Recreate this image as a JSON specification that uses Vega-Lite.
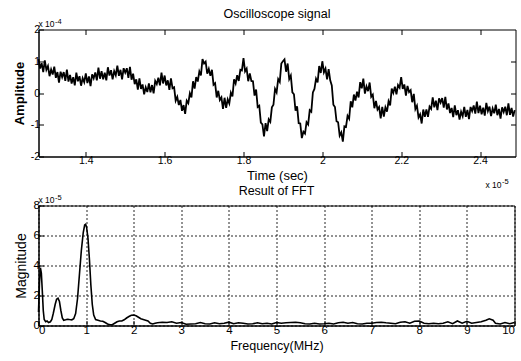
{
  "$schema": "https://vega.github.io/schema/vega-lite/v6.json",
  "background": "white",
  "padding": {"left": 12.5, "top": 7.5, "right": 0, "bottom": 0},
  "spacing": 49,
  "bounds": "flush",
  "config": {
    "font": "Liberation Sans",
    "view": {"stroke": "#000", "strokeWidth": 1},
    "axis": {
      "domainColor": "#000", "tickColor": "#000", "labelColor": "#000", "titleColor": "#000",
      "tickSize": -5, "labelPadding": 4, "labelFont": "Liberation Sans", "labelFontSize": 10.5,
      "titleFont": "Liberation Sans", "titleFontWeight": "normal", "grid": false, "labelOverlap": false
    },
    "title": {"font": "Liberation Sans", "fontSize": 12.5, "fontWeight": "normal", "color": "#000", "offset": -4}
  },
  "vconcat": [
    {
      "width": 477,
      "height": 127,
      "title": {"text": "Oscilloscope signal", "offset": -3},
      "resolve": {"axis": {"x": "independent", "y": "independent"}},
      "layer": [
        {
          "data": {"values": [
{"t":1.280,"a":1.07},{"t":1.284,"a":0.77},{"t":1.288,"a":0.94},{"t":1.292,"a":0.66},{"t":1.296,"a":1.03},
{"t":1.300,"a":0.73},{"t":1.304,"a":0.85},{"t":1.308,"a":0.53},{"t":1.312,"a":0.74},{"t":1.316,"a":0.58},
{"t":1.320,"a":0.83},{"t":1.324,"a":0.48},{"t":1.328,"a":0.66},{"t":1.332,"a":0.33},{"t":1.336,"a":0.67},
{"t":1.340,"a":0.50},{"t":1.344,"a":0.66},{"t":1.348,"a":0.38},{"t":1.352,"a":0.74},{"t":1.356,"a":0.36},
{"t":1.360,"a":0.57},{"t":1.364,"a":0.30},{"t":1.368,"a":0.50},{"t":1.372,"a":0.24},{"t":1.376,"a":0.64},
{"t":1.380,"a":0.37},{"t":1.384,"a":0.53},{"t":1.388,"a":0.23},{"t":1.392,"a":0.47},{"t":1.396,"a":0.34},
{"t":1.400,"a":0.62},{"t":1.404,"a":0.31},{"t":1.408,"a":0.52},{"t":1.412,"a":0.22},{"t":1.416,"a":0.59},
{"t":1.420,"a":0.46},{"t":1.424,"a":0.65},{"t":1.428,"a":0.40},{"t":1.432,"a":0.80},{"t":1.436,"a":0.45},
{"t":1.440,"a":0.69},{"t":1.444,"a":0.43},{"t":1.448,"a":0.64},{"t":1.452,"a":0.40},{"t":1.456,"a":0.81},
{"t":1.460,"a":0.55},{"t":1.464,"a":0.72},{"t":1.468,"a":0.43},{"t":1.472,"a":0.69},{"t":1.476,"a":0.56},
{"t":1.480,"a":0.86},{"t":1.484,"a":0.54},{"t":1.488,"a":0.73},{"t":1.492,"a":0.43},{"t":1.496,"a":0.78},
{"t":1.500,"a":0.64},{"t":1.504,"a":0.78},{"t":1.508,"a":0.48},{"t":1.512,"a":0.82},{"t":1.516,"a":0.42},
{"t":1.520,"a":0.61},{"t":1.524,"a":0.28},{"t":1.528,"a":0.43},{"t":1.532,"a":0.11},{"t":1.536,"a":0.46},
{"t":1.540,"a":0.13},{"t":1.544,"a":0.27},{"t":1.548,"a":-0.04},{"t":1.552,"a":0.18},{"t":1.556,"a":0.03},
{"t":1.560,"a":0.30},{"t":1.564,"a":0.02},{"t":1.568,"a":0.25},{"t":1.572,"a":-0.01},{"t":1.576,"a":0.38},
{"t":1.580,"a":0.28},{"t":1.584,"a":0.48},{"t":1.588,"a":0.24},{"t":1.592,"a":0.64},{"t":1.596,"a":0.30},
{"t":1.600,"a":0.55},{"t":1.604,"a":0.24},{"t":1.608,"a":0.40},{"t":1.612,"a":0.10},{"t":1.616,"a":0.46},
{"t":1.620,"a":0.15},{"t":1.624,"a":0.18},{"t":1.628,"a":-0.24},{"t":1.632,"a":-0.12},{"t":1.636,"a":-0.38},
{"t":1.640,"a":-0.22},{"t":1.644,"a":-0.56},{"t":1.648,"a":-0.38},{"t":1.652,"a":-0.66},{"t":1.656,"a":-0.24},
{"t":1.660,"a":-0.32},{"t":1.664,"a":-0.01},{"t":1.668,"a":-0.14},{"t":1.672,"a":0.37},{"t":1.676,"a":0.14},
{"t":1.680,"a":0.50},{"t":1.684,"a":0.36},{"t":1.688,"a":0.68},{"t":1.692,"a":0.55},{"t":1.696,"a":1.07},
{"t":1.700,"a":0.93},{"t":1.704,"a":0.99},{"t":1.708,"a":0.61},{"t":1.712,"a":0.76},{"t":1.716,"a":0.54},
{"t":1.720,"a":0.73},{"t":1.724,"a":0.26},{"t":1.728,"a":0.31},{"t":1.732,"a":-0.14},{"t":1.736,"a":0.07},
{"t":1.740,"a":-0.22},{"t":1.744,"a":-0.14},{"t":1.748,"a":-0.50},{"t":1.752,"a":-0.15},{"t":1.756,"a":-0.47},
{"t":1.760,"a":-0.20},{"t":1.764,"a":-0.33},{"t":1.768,"a":0.01},{"t":1.772,"a":-0.11},{"t":1.776,"a":0.43},
{"t":1.780,"a":0.30},{"t":1.784,"a":0.56},{"t":1.788,"a":0.38},{"t":1.792,"a":0.73},{"t":1.796,"a":0.71},
{"t":1.800,"a":1.10},{"t":1.804,"a":0.68},{"t":1.808,"a":0.77},{"t":1.812,"a":0.37},{"t":1.816,"a":0.62},
{"t":1.820,"a":0.38},{"t":1.824,"a":0.37},{"t":1.828,"a":-0.08},{"t":1.832,"a":0.11},{"t":1.836,"a":-0.44},
{"t":1.840,"a":-0.40},{"t":1.844,"a":-0.93},{"t":1.848,"a":-0.99},{"t":1.852,"a":-1.37},{"t":1.856,"a":-0.95},
{"t":1.860,"a":-1.20},{"t":1.864,"a":-0.83},{"t":1.868,"a":-0.91},{"t":1.872,"a":-0.45},{"t":1.876,"a":-0.37},
{"t":1.880,"a":0.13},{"t":1.884,"a":0.02},{"t":1.888,"a":0.44},{"t":1.892,"a":0.35},{"t":1.896,"a":0.93},
{"t":1.900,"a":1.00},{"t":1.904,"a":1.06},{"t":1.908,"a":0.67},{"t":1.912,"a":0.93},{"t":1.916,"a":0.44},
{"t":1.920,"a":0.55},{"t":1.924,"a":0.02},{"t":1.928,"a":-0.04},{"t":1.932,"a":-0.56},{"t":1.936,"a":-0.42},
{"t":1.940,"a":-0.95},{"t":1.944,"a":-0.96},{"t":1.948,"a":-1.42},{"t":1.952,"a":-1.22},{"t":1.956,"a":-1.28},
{"t":1.960,"a":-0.92},{"t":1.964,"a":-0.99},{"t":1.968,"a":-0.54},{"t":1.972,"a":-0.59},{"t":1.976,"a":0.02},
{"t":1.980,"a":0.13},{"t":1.984,"a":0.45},{"t":1.988,"a":0.33},{"t":1.992,"a":0.85},{"t":1.996,"a":0.63},
{"t":2.000,"a":1.00},{"t":2.004,"a":0.65},{"t":2.008,"a":0.77},{"t":2.012,"a":0.43},{"t":2.016,"a":0.75},
{"t":2.020,"a":0.40},{"t":2.024,"a":0.24},{"t":2.028,"a":-0.37},{"t":2.032,"a":-0.44},{"t":2.036,"a":-0.89},
{"t":2.040,"a":-0.92},{"t":2.044,"a":-1.34},{"t":2.048,"a":-1.24},{"t":2.052,"a":-1.53},{"t":2.056,"a":-1.05},
{"t":2.060,"a":-1.07},{"t":2.064,"a":-0.72},{"t":2.068,"a":-0.81},{"t":2.072,"a":-0.26},{"t":2.076,"a":-0.45},
{"t":2.080,"a":-0.05},{"t":2.084,"a":-0.24},{"t":2.088,"a":0.04},{"t":2.092,"a":-0.14},{"t":2.096,"a":0.34},
{"t":2.100,"a":0.15},{"t":2.104,"a":0.45},{"t":2.108,"a":-0.02},{"t":2.112,"a":0.21},{"t":2.116,"a":0.06},
{"t":2.120,"a":0.33},{"t":2.124,"a":-0.12},{"t":2.128,"a":-0.05},{"t":2.132,"a":-0.48},{"t":2.136,"a":-0.25},
{"t":2.140,"a":-0.52},{"t":2.144,"a":-0.44},{"t":2.148,"a":-0.80},{"t":2.152,"a":-0.44},{"t":2.156,"a":-0.74},
{"t":2.160,"a":-0.45},{"t":2.164,"a":-0.59},{"t":2.168,"a":-0.26},{"t":2.172,"a":-0.39},{"t":2.176,"a":0.14},
{"t":2.180,"a":0.00},{"t":2.184,"a":0.20},{"t":2.188,"a":-0.04},{"t":2.192,"a":0.25},{"t":2.196,"a":0.17},
{"t":2.200,"a":0.50},{"t":2.204,"a":0.13},{"t":2.208,"a":0.27},{"t":2.212,"a":-0.08},{"t":2.216,"a":0.22},
{"t":2.220,"a":0.03},{"t":2.224,"a":0.09},{"t":2.228,"a":-0.29},{"t":2.232,"a":-0.03},{"t":2.236,"a":-0.51},
{"t":2.240,"a":-0.40},{"t":2.244,"a":-0.77},{"t":2.248,"a":-0.67},{"t":2.252,"a":-0.96},{"t":2.256,"a":-0.52},
{"t":2.260,"a":-0.75},{"t":2.264,"a":-0.52},{"t":2.268,"a":-0.75},{"t":2.272,"a":-0.43},{"t":2.276,"a":-0.50},
{"t":2.280,"a":-0.14},{"t":2.284,"a":-0.45},{"t":2.288,"a":-0.24},{"t":2.292,"a":-0.54},{"t":2.296,"a":-0.17},
{"t":2.300,"a":-0.30},{"t":2.304,"a":-0.16},{"t":2.308,"a":-0.46},{"t":2.312,"a":-0.12},{"t":2.316,"a":-0.52},
{"t":2.320,"a":-0.33},{"t":2.324,"a":-0.63},{"t":2.328,"a":-0.47},{"t":2.332,"a":-0.76},{"t":2.336,"a":-0.39},
{"t":2.340,"a":-0.70},{"t":2.344,"a":-0.54},{"t":2.348,"a":-0.84},{"t":2.352,"a":-0.59},{"t":2.356,"a":-0.73},
{"t":2.360,"a":-0.44},{"t":2.364,"a":-0.75},{"t":2.368,"a":-0.53},{"t":2.372,"a":-0.82},{"t":2.376,"a":-0.44},
{"t":2.380,"a":-0.57},{"t":2.384,"a":-0.39},{"t":2.388,"a":-0.65},{"t":2.392,"a":-0.27},{"t":2.396,"a":-0.63},
{"t":2.400,"a":-0.40},{"t":2.404,"a":-0.67},{"t":2.408,"a":-0.46},{"t":2.412,"a":-0.71},{"t":2.416,"a":-0.31},
{"t":2.420,"a":-0.57},{"t":2.424,"a":-0.43},{"t":2.428,"a":-0.73},{"t":2.432,"a":-0.49},{"t":2.436,"a":-0.64},
{"t":2.440,"a":-0.37},{"t":2.444,"a":-0.70},{"t":2.448,"a":-0.50},{"t":2.452,"a":-0.81},{"t":2.456,"a":-0.45},
{"t":2.460,"a":-0.60},{"t":2.464,"a":-0.43},{"t":2.468,"a":-0.70},{"t":2.472,"a":-0.33},{"t":2.476,"a":-0.69},
{"t":2.480,"a":-0.47},{"t":2.484,"a":-0.74},{"t":2.488,"a":-0.54}
          ]},
          "mark": {"type": "line", "color": "#000", "strokeWidth": 1.8},
          "encoding": {
            "x": {"field": "t", "type": "quantitative", "scale": {"domain": [1.28, 2.49], "nice": false, "zero": false},
                  "axis": {"values": [1.4, 1.6, 1.8, 2, 2.2, 2.4], "labelExpr": "'' + datum.value", "title": "Time (sec)", "titleFontSize": 13, "titlePadding": 3}},
            "y": {"field": "a", "type": "quantitative", "scale": {"domain": [-2, 2], "nice": false},
                  "axis": {"values": [-2, -1, 0, 1, 2], "labelExpr": "'' + datum.value", "title": "Amplitude", "titleFontWeight": "bold", "titleFontSize": 13, "titlePadding": 4}}
          }
        },
        {
          "data": {"values": [{"lab": "x 10"}]},
          "mark": {"type": "text", "align": "left", "baseline": "alphabetic", "dy": -3, "fontSize": 8.5, "color": "#000"},
          "encoding": {
            "text": {"field": "lab"},
            "x": {"datum": 1.28, "type": "quantitative", "axis": {"orient": "top", "labels": false, "title": null, "domain": false, "labelPadding": 0, "values": [1.4, 1.6, 1.8, 2, 2.2, 2.4]}},
            "y": {"datum": 2, "type": "quantitative", "axis": {"orient": "right", "labels": false, "title": null, "domain": false, "labelPadding": 0, "values": [-1, 0, 1]}}
          }
        },
        {
          "data": {"values": [{"lab": "-4"}]},
          "mark": {"type": "text", "align": "left", "baseline": "alphabetic", "dx": 16.5, "dy": -6, "fontSize": 7.5, "color": "#000"},
          "encoding": {
            "text": {"field": "lab"},
            "x": {"datum": 1.28, "type": "quantitative", "axis": null},
            "y": {"datum": 2, "type": "quantitative", "axis": null}
          }
        },
        {
          "data": {"values": [{"lab": "x 10"}]},
          "mark": {"type": "text", "align": "right", "baseline": "alphabetic", "dx": -14, "dy": 31, "fontSize": 8.5, "color": "#000"},
          "encoding": {
            "text": {"field": "lab"},
            "x": {"datum": 2.49, "type": "quantitative", "axis": null},
            "y": {"datum": -2, "type": "quantitative", "axis": null}
          }
        },
        {
          "data": {"values": [{"lab": "-5"}]},
          "mark": {"type": "text", "align": "left", "baseline": "alphabetic", "dx": -13.5, "dy": 27, "fontSize": 7.5, "color": "#000"},
          "encoding": {
            "text": {"field": "lab"},
            "x": {"datum": 2.49, "type": "quantitative", "axis": null},
            "y": {"datum": -2, "type": "quantitative", "axis": null}
          }
        }
      ]
    },
    {
      "width": 476,
      "height": 120,
      "title": {"text": "Result of FFT"},
      "resolve": {"axis": {"x": "independent", "y": "independent"}},
      "layer": [
        {
          "data": {"values": [
{"f":0.00,"m":0.90},{"f":0.02,"m":2.80},{"f":0.04,"m":3.85},{"f":0.06,"m":3.50},{"f":0.08,"m":2.30},
{"f":0.10,"m":1.00},{"f":0.12,"m":0.40},{"f":0.15,"m":0.25},{"f":0.18,"m":0.30},{"f":0.21,"m":0.20},
{"f":0.25,"m":0.25},{"f":0.28,"m":0.40},{"f":0.31,"m":0.80},{"f":0.35,"m":1.40},{"f":0.38,"m":1.75},
{"f":0.41,"m":1.82},{"f":0.44,"m":1.60},{"f":0.47,"m":1.00},{"f":0.50,"m":0.50},{"f":0.53,"m":0.35},
{"f":0.57,"m":0.38},{"f":0.61,"m":0.42},{"f":0.65,"m":0.40},{"f":0.70,"m":0.38},{"f":0.74,"m":0.45},
{"f":0.78,"m":0.80},{"f":0.82,"m":1.80},{"f":0.86,"m":3.40},{"f":0.90,"m":5.00},{"f":0.94,"m":6.20},
{"f":0.97,"m":6.70},{"f":0.99,"m":6.75},{"f":1.01,"m":6.55},{"f":1.04,"m":5.80},{"f":1.07,"m":4.40},
{"f":1.10,"m":2.70},{"f":1.13,"m":1.40},{"f":1.16,"m":0.70},{"f":1.20,"m":0.40},{"f":1.25,"m":0.35},
{"f":1.30,"m":0.30},{"f":1.35,"m":0.28},{"f":1.40,"m":0.20},{"f":1.45,"m":0.10},{"f":1.50,"m":0.05},
{"f":1.55,"m":0.05},{"f":1.60,"m":0.15},{"f":1.65,"m":0.25},{"f":1.70,"m":0.30},{"f":1.75,"m":0.30},
{"f":1.80,"m":0.38},{"f":1.85,"m":0.50},{"f":1.90,"m":0.60},{"f":1.95,"m":0.68},{"f":2.00,"m":0.70},
{"f":2.05,"m":0.65},{"f":2.10,"m":0.55},{"f":2.15,"m":0.45},{"f":2.20,"m":0.40},{"f":2.25,"m":0.35},
{"f":2.30,"m":0.30},{"f":2.35,"m":0.15},{"f":2.40,"m":0.10},{"f":2.45,"m":0.15},{"f":2.5,"m":0.18},
{"f":2.6,"m":0.22},{"f":2.7,"m":0.20},{"f":2.8,"m":0.25},{"f":2.9,"m":0.15},{"f":3.0,"m":0.20},
{"f":3.1,"m":0.08},{"f":3.2,"m":0.10},{"f":3.3,"m":0.12},{"f":3.4,"m":0.20},{"f":3.5,"m":0.12},
{"f":3.6,"m":0.10},{"f":3.7,"m":0.18},{"f":3.8,"m":0.12},{"f":3.9,"m":0.15},{"f":4.0,"m":0.22},
{"f":4.1,"m":0.12},{"f":4.2,"m":0.18},{"f":4.3,"m":0.15},{"f":4.4,"m":0.10},{"f":4.5,"m":0.12},
{"f":4.6,"m":0.18},{"f":4.7,"m":0.12},{"f":4.8,"m":0.15},{"f":4.9,"m":0.10},{"f":5.0,"m":0.20},
{"f":5.1,"m":0.15},{"f":5.2,"m":0.18},{"f":5.3,"m":0.20},{"f":5.4,"m":0.22},{"f":5.5,"m":0.18},
{"f":5.6,"m":0.12},{"f":5.7,"m":0.10},{"f":5.8,"m":0.15},{"f":5.9,"m":0.10},{"f":6.0,"m":0.12},
{"f":6.1,"m":0.15},{"f":6.2,"m":0.10},{"f":6.3,"m":0.18},{"f":6.4,"m":0.22},{"f":6.5,"m":0.15},
{"f":6.6,"m":0.20},{"f":6.7,"m":0.12},{"f":6.8,"m":0.10},{"f":6.9,"m":0.15},{"f":7.0,"m":0.15},
{"f":7.1,"m":0.20},{"f":7.2,"m":0.22},{"f":7.3,"m":0.18},{"f":7.4,"m":0.15},{"f":7.5,"m":0.12},
{"f":7.6,"m":0.22},{"f":7.7,"m":0.25},{"f":7.8,"m":0.15},{"f":7.9,"m":0.28},{"f":8.0,"m":0.30},
{"f":8.1,"m":0.15},{"f":8.2,"m":0.12},{"f":8.3,"m":0.15},{"f":8.4,"m":0.12},{"f":8.5,"m":0.15},
{"f":8.6,"m":0.25},{"f":8.7,"m":0.12},{"f":8.8,"m":0.30},{"f":8.9,"m":0.15},{"f":9.0,"m":0.28},
{"f":9.1,"m":0.15},{"f":9.2,"m":0.20},{"f":9.3,"m":0.25},{"f":9.4,"m":0.35},{"f":9.47,"m":0.45},
{"f":9.55,"m":0.35},{"f":9.6,"m":0.15},{"f":9.7,"m":0.10},{"f":9.8,"m":0.20},{"f":9.9,"m":0.12},
{"f":10.0,"m":0.20}
          ]},
          "mark": {"type": "line", "color": "#000", "strokeWidth": 1.6},
          "encoding": {
            "x": {"field": "f", "type": "quantitative", "scale": {"domain": [0, 10], "nice": false},
                  "axis": {"values": [0,1,2,3,4,5,6,7,8,9,10], "title": "Frequency(MHz)", "titleFontSize": 12.5, "titlePadding": 3, "labelFontSize": 11.5,
                           "grid": true, "gridColor": "#000", "gridDash": [2, 2], "gridOpacity": 0.85}},
            "y": {"field": "m", "type": "quantitative", "scale": {"domain": [0, 8], "nice": false},
                  "axis": {"values": [0,2,4,6,8], "title": "Magnitude", "titleFontSize": 14, "titlePadding": 5, "labelFontSize": 11.5,
                           "grid": true, "gridColor": "#000", "gridDash": [2, 2], "gridOpacity": 0.85}}
          }
        },
        {
          "data": {"values": [{"lab": "x 10"}]},
          "mark": {"type": "text", "align": "left", "baseline": "alphabetic", "dy": -3, "fontSize": 8.5, "color": "#000"},
          "encoding": {
            "text": {"field": "lab"},
            "x": {"datum": 0, "type": "quantitative", "axis": null},
            "y": {"datum": 8, "type": "quantitative", "axis": null}
          }
        },
        {
          "data": {"values": [{"lab": "-5"}]},
          "mark": {"type": "text", "align": "left", "baseline": "alphabetic", "dx": 16.5, "dy": -6, "fontSize": 7.5, "color": "#000"},
          "encoding": {
            "text": {"field": "lab"},
            "x": {"datum": 0, "type": "quantitative", "axis": null},
            "y": {"datum": 8, "type": "quantitative", "axis": null}
          }
        }
      ]
    }
  ]
}
